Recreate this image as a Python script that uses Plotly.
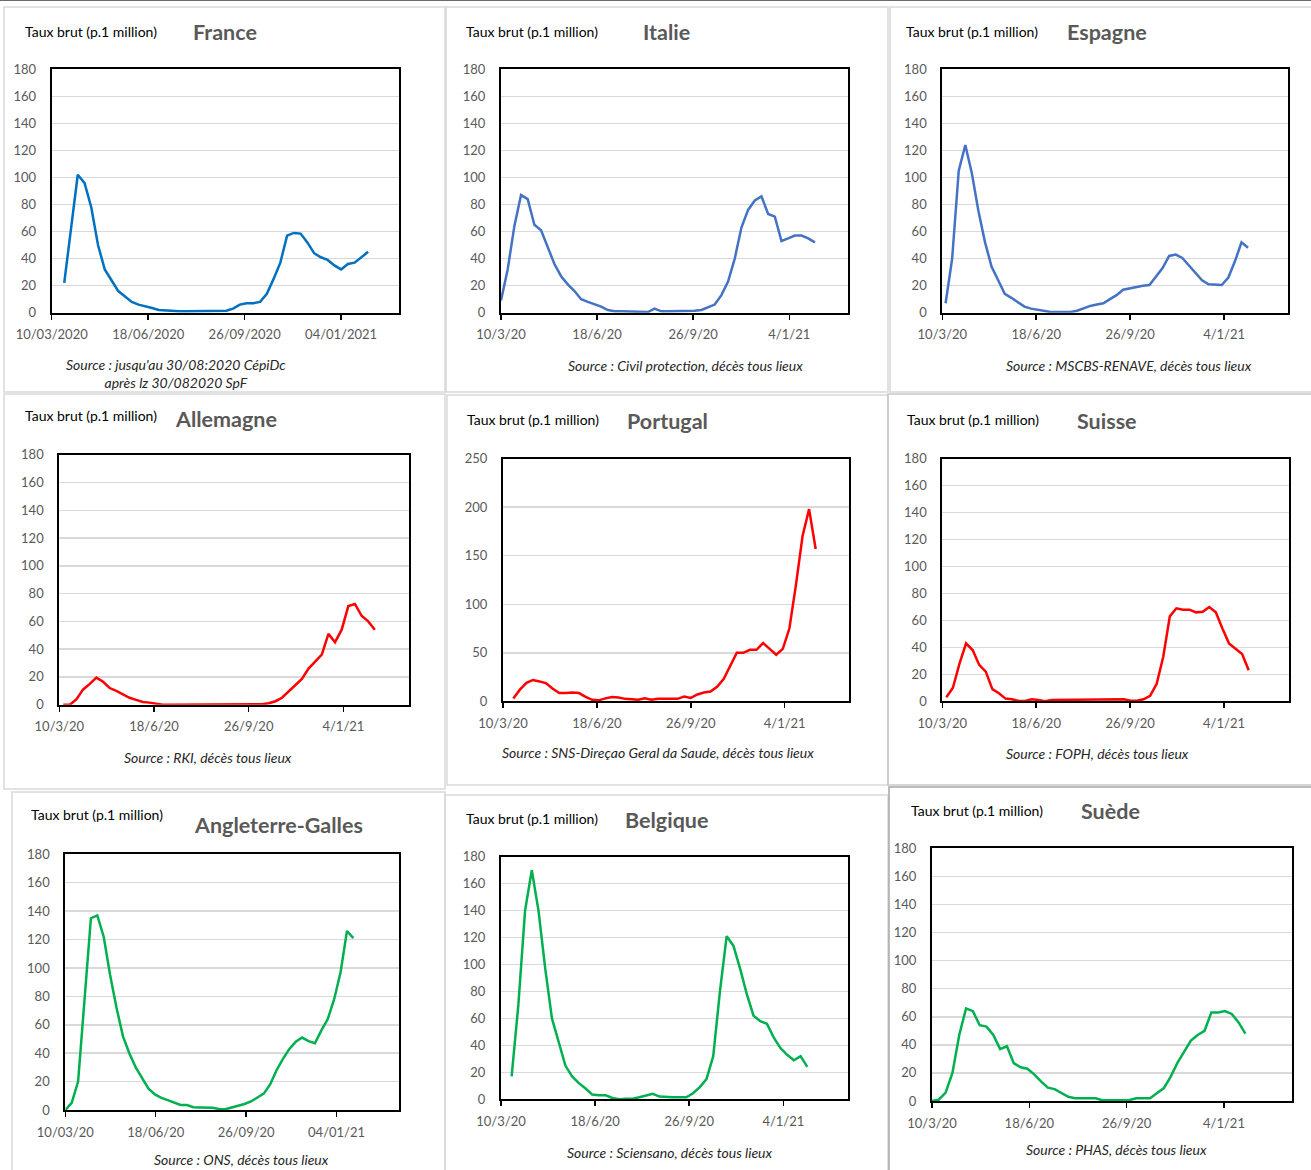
import plotly.graph_objects as go
import pandas as pd

W, H = 1311, 1170
BASE = pd.Timestamp("2020-03-10")

# ---------------- data (weekly values, taux brut p. 1 million) ----------------
france = [22, 62, 102, 96, 78, 50, 32, 24, 16, 12, 8, 6, 5, 3.5, 2, 1.5, 1, 1, 1, 1, 1, 1, 1, 1,
          1.5, 3, 6, 7, 7, 8, 14, 25, 37, 57, 59, 58.5, 52, 44, 41, 39, 35, 32, 36, 37, 41, 45]
italie = [9, 32, 64, 87, 84, 65, 61, 48, 36, 27, 21, 16, 10, 8, 6.5, 4.5, 2, 1, 1, 1, 0.5, 0.5, 0.5, 3,
          1, 1, 1, 1, 1.5, 1.5, 2, 4, 6, 13, 23, 40, 63, 76, 83, 86, 73, 71, 53, 55, 57, 57, 55, 52]
espagne = [7, 40, 105, 124, 103, 75, 52, 34, 24, 14, 11, 7.5, 4.5, 3, 2, 1, 0.5, 0.5, 0.5, 0.5, 1.5, 3.5,
           5, 6, 7, 10, 13, 17, 18, 19.5, 20, 20.5, 27, 33, 42, 43, 40.5, 35, 29, 24, 21, 20.5, 20.5,
           26, 38, 52, 48]
allemagne = [0, 0, 4, 11, 15, 19.5, 16.5, 12, 10, 7.5, 5, 3.5, 2, 1.5, 0.5,
             0, 0, 0, 0, 0, 0, 0, 0, 0, 0, 0, 0, 0, 0, 0,
             0.3, 1, 2.5, 5, 9.5, 14.5, 18.5, 26, 31, 36, 51, 45, 54, 71, 72.5, 64, 60, 54]
portugal = [3, 12, 19, 22, 20.5, 18.5, 13, 8.5, 8.5, 9, 8.5, 4.5, 1.5, 1, 3, 4.5, 4, 2.5, 2, 1.5, 3,
            1.5, 2.5, 2.5, 2.5, 2.5, 5, 3.5, 7, 9, 10, 15, 23, 37, 50, 50, 53, 53, 60, 54, 48, 54, 75,
            120, 170, 198, 157]
suisse = [3, 10, 28, 43, 38, 27, 22, 9, 6, 2, 1.5, 0.2, 0.3, 1.5, 1, 0, 1, 1, 1, 1, 1, 1, 1, 1, 1,
          1.5, 1.5, 1.5, 0.5, 0.5, 1.5, 4, 13, 33, 63, 69, 68, 68, 66, 66.5, 70, 66, 54, 43, 39, 35, 23]
angleterre = [0, 5, 20, 75, 135, 137, 122, 95, 72, 52, 40, 30, 22, 15, 11, 8.5, 7, 5.5, 3.5, 3.5, 2,
              1.8, 1.8, 1.5, 0.7, 0.5, 1.8, 3, 4.2, 6, 8.5, 11.5, 18, 28, 36, 43, 48, 51, 48.5, 47,
              56, 64, 78, 97, 126, 121]
belgique = [17, 70, 140, 170, 140, 97, 60, 42, 25, 17, 12, 8, 3.5, 3, 3, 1, 0, 0.5, 0.5, 1.5, 3, 4, 2,
            1.5, 1.5, 1.5, 1.5, 4.5, 9, 15, 32, 80, 121, 114, 97, 78, 62, 58, 56, 46, 38, 33, 29, 32, 24]
suede = [0, 1, 6, 20, 47, 66, 64, 54, 53, 47, 37, 39, 27, 24, 23, 19, 14, 9.5, 8.5, 5.5, 3, 2, 2, 2, 2,
         0.5, 0.5, 0.5, 0.5, 0.7, 2, 2, 2, 5.5, 9, 17, 27, 35, 43, 47, 50, 63, 63, 64, 62, 56, 48]

# first week offset (days after 10/03/2020) and spacing between points (days)
start_days = {"France": 13, "Italie": 0, "Espagne": 3.5, "Allemagne": 4.2, "Portugal": 11,
              "Suisse": 4.3, "Angleterre-Galles": 0, "Belgique": 11.3, "Suède": 0}
step_days = {"France": 7, "Italie": 6.95, "Espagne": 7, "Allemagne": 7, "Portugal": 7,
             "Suisse": 7, "Angleterre-Galles": 7.08, "Belgique": 7.14, "Suède": 7}

tick_dates = ["2020-03-10", "2020-06-18", "2020-09-26", "2021-01-04"]
fmt_long = ["10/03/2020", "18/06/2020", "26/09/2020", "04/01/2021"]
fmt_mid = ["10/03/20", "18/06/20", "26/09/20", "04/01/21"]
fmt_short = ["10/3/20", "18/6/20", "26/9/20", "4/1/21"]

sources = {
    "France": "Source : jusqu'au 30/08:2020 CépiDc<br>après lz 30/082020 SpF",
    "Italie": "Source : Civil protection, décès tous lieux",
    "Espagne": "Source : MSCBS-RENAVE, décès tous lieux",
    "Allemagne": "Source : RKI, décès tous lieux",
    "Portugal": "Source : SNS-Direçao Geral da Saude, décès tous lieux",
    "Suisse": "Source : FOPH, décès tous lieux",
    "Angleterre-Galles": "Source : ONS, décès tous lieux",
    "Belgique": "Source : Sciensano, décès tous lieux",
    "Suède": "Source : PHAS, décès tous lieux",
}

BLUE1, BLUE2, RED, GREEN = "#0070C0", "#4472C4", "#FF0000", "#00B050"

# ---------------- layout spec (pixels) ----------------
panels = [
    # name, values, color, ticktext, (l, r, t, b), xmax_days, ymax, dtick, ylab(x,y), title(x,y), source(x,y)
    ("France", france, BLUE1, fmt_long, (51.7, 399, 69.3, 312.7), 360, 180, 20, (23, 31), (225, 32), (176, 374)),
    ("Italie", italie, BLUE2, fmt_short, (501, 847.7, 69.3, 312.7), 360.8, 180, 20, (464, 31), (666, 32), (685, 365)),
    ("Espagne", espagne, BLUE2, fmt_short, (942.3, 1288, 69.3, 312.7), 368, 180, 20, (904, 31), (1107, 32), (1129, 365)),
    ("Allemagne", allemagne, RED, fmt_short, (59.3, 409.3, 454.7, 704.7), 369.6, 180, 20, (23, 415), (226, 419), (208, 757)),
    ("Portugal", portugal, RED, fmt_short, (503, 849, 458.7, 701.3), 368.5, 250, 50, (465, 419), (667, 421), (658, 752)),
    ("Suisse", suisse, RED, fmt_short, (942.3, 1288.7, 458.7, 701.3), 368.9, 180, 20, (905, 419), (1107, 421), (1097, 753)),
    ("Angleterre-Galles", angleterre, GREEN, fmt_mid, (65.3, 399.3, 854.3, 1110), 369.4, 180, 20, (29, 814), (278, 825), (241, 1159)),
    ("Belgique", belgique, GREEN, fmt_short, (501, 847.7, 856.7, 1099.3), 368.4, 180, 20, (464, 818), (666, 820), (669, 1152)),
    ("Suède", suede, GREEN, fmt_short, (932, 1292.3, 848.3, 1101), 370.2, 180, 20, (909, 810), (1110, 811), (1116, 1149)),
]

frames = [
    (4, 445, 7, 392, "#d9d9d9"), (446, 888, 7, 392, "#d9d9d9"), (890, 1312, 7, 392, "#d9d9d9"),
    (4, 445, 394, 789, "#d9d9d9"), (447, 888, 395, 785, "#d9d9d9"), (888, 1312, 394, 785, "#c8c8c8"),
    (12, 445, 792, 1172, "#d9d9d9"), (445, 888, 795, 1172, "#d9d9d9"), (889, 1312, 787, 1172, "#a6a6a6"),
]

FONT = "Lato"
fig = go.Figure()
annotations = []
shapes = []


def px(x):
    return x / W


def py(y):
    return 1 - y / H


for fx0, fx1, fy0, fy1, fcol in frames:
    shapes.append(dict(type="rect", xref="paper", yref="paper", x0=px(fx0), x1=px(fx1),
                       y0=py(fy1), y1=py(fy0), line=dict(color=fcol, width=1.5),
                       fillcolor="rgba(0,0,0,0)", layer="below"))
shapes.append(dict(type="line", xref="paper", yref="paper", x0=0, x1=1, y0=py(0.5), y1=py(0.5),
                   line=dict(color="#6b6b6b", width=1)))

for i, (name, vals, color, ttext, box, xmax, ymax, dtick, ylab, tpos, spos) in enumerate(panels):
    n = i + 1
    xa = "x" if n == 1 else f"x{n}"
    ya = "y" if n == 1 else f"y{n}"
    s0, st = start_days[name], step_days[name]
    dates = [BASE + pd.Timedelta(days=s0 + st * k) for k in range(len(vals))]
    fig.add_trace(go.Scatter(x=dates, y=vals, mode="lines", xaxis=xa, yaxis=ya,
                             line=dict(color=color, width=2.5), showlegend=False,
                             hoverinfo="skip"))
    l, r, t, b = box
    xkey = "xaxis" if n == 1 else f"xaxis{n}"
    ykey = "yaxis" if n == 1 else f"yaxis{n}"
    fig.update_layout(**{
        xkey: dict(domain=[px(l), px(r)], anchor=ya, type="date",
                   range=[BASE, BASE + pd.Timedelta(days=xmax)],
                   tickvals=list(pd.to_datetime(tick_dates)), ticktext=ttext,
                   ticks="outside", ticklen=5, tickwidth=1.5, tickcolor="black",
                   showgrid=False, zeroline=False, showline=True, linecolor="black",
                   linewidth=2, mirror=True, ticklabelstandoff=4,
                   tickfont=dict(family=FONT, size=13, color="#595959")),
        ykey: dict(domain=[py(b), py(t)], anchor=xa, range=[0, ymax], dtick=dtick,
                   tick0=0, showgrid=True, gridcolor="#d9d9d9", gridwidth=1.5,
                   zeroline=False, showline=True, linecolor="black", linewidth=2,
                   mirror=True, ticks="", ticklabelstandoff=11,
                   tickfont=dict(family=FONT, size=13, color="#595959")),
    })
    annotations.append(dict(text="Taux brut (p.1 million)", x=px(ylab[0]), y=py(ylab[1]),
                            xref="paper", yref="paper", xanchor="left", yanchor="middle",
                            showarrow=False, font=dict(family=FONT, size=14, color="black")))
    annotations.append(dict(text=f"<b>{name}</b>", x=px(tpos[0]), y=py(tpos[1]),
                            xref="paper", yref="paper", xanchor="center", yanchor="middle",
                            showarrow=False, font=dict(family=FONT, size=21.5, color="#595959")))
    annotations.append(dict(text=f"<i>{sources[name]}</i>", x=px(spos[0]), y=py(spos[1]),
                            xref="paper", yref="paper", xanchor="center", yanchor="middle",
                            showarrow=False, align="center",
                            font=dict(family=FONT, size=14, color="#262626")))

fig.update_layout(width=W, height=H,
                  margin=dict(l=0, r=0, t=0, b=0, pad=0, autoexpand=False),
                  paper_bgcolor="white", plot_bgcolor="white",
                  annotations=annotations, shapes=shapes)

fig.write_html("out.html", config={"displayModeBar": False, "staticPlot": True},
               post_script="document.body.style.margin='0';document.body.style.overflow='hidden';")
